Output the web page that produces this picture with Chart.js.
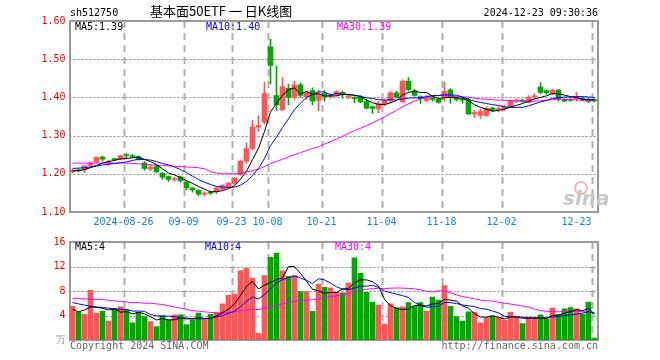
<!DOCTYPE html>
<html>
<head>
<meta charset="utf-8">
<script src="https://cdn.jsdelivr.net/npm/chart.js@4"></script>
<style>
body { margin: 0; background: #fff; width: 660px; height: 360px; position: relative; overflow: hidden;
       font: 10px 'DejaVu Sans Mono', monospace; }
.t { position: absolute; white-space: pre; line-height: 10px; }
#main { position: absolute; left: 0; top: 0; }
#vol { position: absolute; left: 0; top: 232px; }
</style>
</head>
<body>
<canvas id="main" width="660" height="232"></canvas>
<canvas id="vol" width="660" height="128"></canvas>

<div class="t" style="left:70px;top:8px;color:#000">sh512750</div>
<div class="t" style="left:150px;top:3px;font:13px 'Noto Sans CJK SC';line-height:16px;color:#000">基本面50ETF 一 日K线图</div>
<div class="t" style="right:62px;top:8px;color:#000">2024-12-23 09:30:36</div>

<div class="t" style="left:75px;top:22px;color:#000">MA5:1.39</div>
<div class="t" style="left:206px;top:22px;color:#0000ff">MA10:1.40</div>
<div class="t" style="left:337px;top:22px;color:#ff00ff">MA30:1.39</div>

<div class="t" style="left:75px;top:242px;color:#000">MA5:4</div>
<div class="t" style="left:205px;top:242px;color:#0000ff">MA10:4</div>
<div class="t" style="left:335px;top:242px;color:#ff00ff">MA30:4</div>

<div class="t" style="left:70px;top:341px;color:#666">Copyright 2024 SINA.COM</div>
<div class="t" style="right:62px;top:341px;color:#666">http://finance.sina.com.cn</div>

<div style="position:absolute;left:574px;top:181px;width:10px;height:10px;border:2px solid #f2b8b8;border-radius:50%"></div>
<div class="t" style="left:563px;top:188px;font:italic bold 20px 'DejaVu Sans';line-height:20px;color:#c8c8c8">sina</div>

<script>
// ---- 日K数据 (2024-08-13 ... 2024-12-23, 88个交易日) ----
const open = [1.205,1.210,1.211,1.222,1.231,1.244,1.229,1.238,1.239,1.250,
  1.248,1.245,1.228,1.213,1.219,1.201,1.193,1.185,1.192,1.177,
  1.163,1.157,1.147,1.152,1.153,1.160,1.166,1.175,1.198,1.233,
  1.266,1.322,1.335,1.532,1.405,1.368,1.424,1.400,1.433,1.402,
  1.418,1.392,1.410,1.401,1.407,1.413,1.401,1.400,1.400,1.389,
  1.376,1.370,1.382,1.392,1.412,1.388,1.442,1.418,1.402,1.392,
  1.398,1.395,1.399,1.420,1.397,1.396,1.392,1.357,1.353,1.353,
  1.372,1.368,1.371,1.376,1.390,1.392,1.387,1.401,1.427,1.418,
  1.410,1.419,1.394,1.394,1.397,1.398,1.395,1.394];
const high = [1.212,1.213,1.222,1.231,1.244,1.246,1.235,1.240,1.249,1.253,
  1.250,1.247,1.232,1.222,1.224,1.203,1.195,1.191,1.194,1.180,
  1.164,1.158,1.153,1.153,1.164,1.171,1.177,1.190,1.236,1.281,
  1.340,1.352,1.440,1.552,1.482,1.452,1.435,1.443,1.438,1.415,
  1.425,1.418,1.418,1.410,1.418,1.416,1.405,1.402,1.405,1.395,
  1.378,1.390,1.395,1.415,1.416,1.446,1.452,1.421,1.404,1.405,
  1.401,1.398,1.440,1.423,1.401,1.398,1.398,1.366,1.370,1.375,
  1.374,1.376,1.380,1.393,1.396,1.395,1.405,1.410,1.439,1.420,
  1.421,1.421,1.397,1.398,1.413,1.400,1.398,1.396];
const low = [1.202,1.205,1.203,1.218,1.229,1.233,1.222,1.235,1.237,1.240,
  1.243,1.236,1.209,1.208,1.202,1.186,1.180,1.181,1.178,1.158,
  1.152,1.143,1.142,1.146,1.148,1.158,1.164,1.173,1.196,1.228,
  1.262,1.310,1.330,1.435,1.366,1.365,1.380,1.395,1.400,1.395,
  1.380,1.366,1.390,1.398,1.403,1.398,1.397,1.386,1.386,1.370,
  1.358,1.360,1.378,1.385,1.398,1.386,1.416,1.403,1.384,1.388,
  1.390,1.385,1.390,1.385,1.390,1.385,1.355,1.347,1.345,1.350,
  1.362,1.362,1.365,1.374,1.386,1.387,1.385,1.397,1.409,1.408,
  1.407,1.390,1.388,1.390,1.390,1.390,1.386,1.388];
const close = [1.209,1.208,1.221,1.228,1.243,1.238,1.231,1.237,1.247,1.248,
  1.245,1.238,1.214,1.217,1.205,1.191,1.185,1.187,1.182,1.163,
  1.158,1.147,1.149,1.149,1.163,1.170,1.176,1.189,1.233,1.266,
  1.322,1.326,1.410,1.484,1.380,1.428,1.400,1.433,1.405,1.413,
  1.390,1.408,1.402,1.406,1.415,1.407,1.403,1.397,1.388,1.372,
  1.371,1.383,1.392,1.412,1.400,1.442,1.420,1.405,1.397,1.400,
  1.395,1.387,1.416,1.400,1.395,1.393,1.357,1.360,1.363,1.372,
  1.367,1.370,1.374,1.392,1.393,1.390,1.400,1.404,1.413,1.412,
  1.419,1.397,1.390,1.392,1.401,1.395,1.390,1.391];

// 均线 (价格)
const ma5 = [1.208,1.208,1.211,1.216,1.222,1.228,1.232,1.235,1.239,1.240,
  1.242,1.243,1.238,1.232,1.224,1.213,1.202,1.197,1.190,1.182,
  1.175,1.167,1.160,1.153,1.153,1.156,1.161,1.169,1.186,1.207,
  1.237,1.267,1.311,1.362,1.384,1.406,1.420,1.425,1.409,1.416,
  1.408,1.410,1.404,1.404,1.404,1.408,1.407,1.406,1.402,1.393,
  1.386,1.382,1.381,1.386,1.392,1.406,1.413,1.416,1.413,1.413,
  1.403,1.397,1.399,1.400,1.399,1.398,1.392,1.381,1.374,1.369,
  1.364,1.366,1.369,1.375,1.379,1.384,1.390,1.396,1.400,1.404,
  1.410,1.409,1.406,1.402,1.400,1.395,1.394,1.394];
const ma10 = [1.214,1.215,1.216,1.218,1.220,1.223,1.225,1.227,1.229,1.231,
  1.235,1.238,1.237,1.236,1.232,1.227,1.223,1.218,1.211,1.203,
  1.194,1.185,1.178,1.172,1.167,1.165,1.164,1.165,1.170,1.180,
  1.196,1.214,1.240,1.274,1.296,1.321,1.344,1.368,1.385,1.400,
  1.407,1.415,1.414,1.407,1.410,1.408,1.408,1.405,1.403,1.399,
  1.397,1.394,1.393,1.394,1.393,1.396,1.398,1.399,1.399,1.402,
  1.405,1.405,1.407,1.406,1.406,1.401,1.395,1.390,1.387,1.384,
  1.381,1.379,1.375,1.374,1.374,1.374,1.378,1.383,1.388,1.392,
  1.397,1.399,1.401,1.401,1.402,1.402,1.401,1.400];
const ma30 = [1.228,1.228,1.228,1.228,1.228,1.228,1.228,1.228,1.228,1.228,
  1.227,1.226,1.225,1.224,1.222,1.221,1.221,1.220,1.219,1.218,
  1.217,1.216,1.213,1.206,1.202,1.200,1.200,1.200,1.201,1.205,
  1.208,1.212,1.219,1.227,1.232,1.238,1.244,1.250,1.255,1.261,
  1.266,1.271,1.278,1.284,1.291,1.298,1.306,1.313,1.319,1.326,
  1.333,1.341,1.349,1.358,1.366,1.375,1.383,1.390,1.396,1.400,
  1.403,1.405,1.405,1.402,1.403,1.402,1.400,1.398,1.396,1.395,
  1.394,1.393,1.392,1.392,1.391,1.390,1.390,1.390,1.391,1.393,
  1.394,1.395,1.395,1.394,1.394,1.392,1.391,1.391];

// 成交量 (万)
const vol = [5.5,4.5,4.2,8.1,4.4,4.7,3.1,5.1,5.4,4.9,
  2.8,4.5,3.8,3.0,2.2,4.0,3.3,4.1,4.1,2.5,
  3.3,4.4,3.3,4.2,4.5,5.9,7.3,7.5,11.3,11.7,
  10.1,1.1,10.5,13.5,14.2,11.3,10.4,10.5,7.9,7.9,
  4.7,9.1,8.6,8.5,7.8,7.7,9.3,13.4,10.9,7.8,
  6.2,5.7,2.6,5.9,5.3,5.4,6.1,5.5,6.1,4.7,
  7.0,6.5,8.9,5.5,3.8,3.1,4.6,4.5,2.8,3.6,
  4.0,3.6,3.2,4.5,3.7,2.7,3.7,3.6,4.1,3.4,
  5.2,4.1,5.1,5.3,5.1,4.2,6.2,0.3];
const vma5 = [5.0,4.6,4.9,5.4,5.34,5.18,4.90,5.08,4.54,4.64,
  4.26,4.54,4.28,3.80,3.26,3.50,3.26,3.32,3.54,3.60,
  3.46,3.68,3.52,3.54,3.94,4.46,5.04,5.88,7.30,8.74,
  9.58,8.34,8.94,9.38,9.88,10.12,11.98,11.98,10.86,9.60,
  8.28,8.02,7.64,7.76,7.74,8.34,8.38,9.34,9.82,9.82,
  9.52,8.80,6.64,5.64,5.14,4.98,5.06,5.64,5.68,5.56,
  5.88,5.96,6.64,6.52,6.34,5.56,5.18,4.30,3.76,3.72,
  3.90,3.70,3.44,3.78,3.80,3.54,3.56,3.64,3.56,3.50,
  4.00,4.08,4.38,4.62,4.96,4.76,5.18,4.22];
const vma10 = [6.1,5.9,5.7,5.5,5.4,5.3,5.2,5.1,5.0,4.99,
  4.72,4.72,4.68,4.17,3.95,3.88,3.90,3.80,3.67,3.43,
  3.48,3.47,3.42,3.54,3.77,3.96,4.36,4.70,5.42,6.34,
  7.02,6.69,7.41,8.34,9.31,9.85,10.16,10.46,10.12,9.74,
  9.20,10.00,9.81,9.31,8.67,8.31,8.20,8.49,8.79,8.78,
  8.93,8.59,7.99,7.73,7.48,7.25,6.93,6.14,5.66,5.35,
  5.43,5.51,6.14,6.10,5.95,5.72,5.57,5.47,5.14,5.03,
  4.73,4.44,3.87,3.77,3.76,3.72,3.63,3.54,3.67,3.65,
  3.77,3.82,4.01,4.09,4.23,4.38,4.63,4.30];
const vma30 = [6.8,6.8,6.7,6.7,6.6,6.6,6.5,6.4,6.3,6.2,
  6.1,6.1,6.0,6.0,5.9,5.8,5.6,5.4,5.2,5.0,
  4.8,4.7,4.6,4.5,4.4,4.4,4.5,4.6,4.8,4.92,
  5.07,4.96,5.17,5.35,5.68,5.90,6.14,6.32,6.40,6.50,
  6.57,6.72,6.88,7.06,7.25,7.37,7.57,7.88,8.11,8.29,
  8.38,8.43,8.40,8.46,8.49,8.47,8.43,8.36,8.19,7.96,
  7.85,8.03,7.98,7.71,7.37,7.09,6.90,6.70,6.53,6.39,
  6.36,6.18,6.00,5.87,5.73,5.56,5.38,5.05,4.82,4.68,
  4.64,4.59,4.67,4.65,4.65,4.61,4.61,4.44];

// 横轴日期 (交易日序号 -> 标签)
const dateIdx = [9, 19, 27, 33, 42, 52, 62, 72, 87];
const dateLabels = ['2024-08-26', '09-09', '09-23', '10-08', '10-21', '11-04', '11-18', '12-02', '12-23'];

// ---- 样式 ----
const RED = '#ff5555', GREEN = '#00a800';
Chart.defaults.font = { family: "'DejaVu Sans Mono', monospace", size: 10 };

const up = close.map((c, i) => c >= open[i]);
const colors = up.map(u => u ? RED : GREEN);
const pts = arr => arr.map((v, i) => ({ x: i + 0.5, y: v }));

// 网格(横向点线、纵向虚线)和边框
const panel = {
    id: 'panel',
    beforeDatasetsDraw(chart) {
        const { ctx, chartArea: a, scales } = chart;
        ctx.save();
        // 横向点线 (去掉首尾两条, 与边框重合)
        ctx.strokeStyle = '#888888';
        ctx.lineWidth = 1;
        ctx.setLineDash([2, 2]);
        scales.y.ticks.slice(1, -1).forEach(t => {
            const y = Math.round(scales.y.getPixelForValue(t.value)) + 0.5;
            ctx.beginPath(); ctx.moveTo(a.left, y); ctx.lineTo(a.right, y); ctx.stroke();
        });
        // 纵向虚线
        ctx.strokeStyle = '#b0b0b0';
        ctx.lineWidth = 2;
        ctx.setLineDash([7, 5]);
        dateIdx.forEach(v => {
            const x = Math.round(scales.x.getPixelForValue(v)) + 0.5;
            ctx.beginPath(); ctx.moveTo(x, a.top); ctx.lineTo(x, a.bottom); ctx.stroke();
        });
        // 边框
        ctx.setLineDash([]);
        ctx.strokeStyle = '#999';
        ctx.lineWidth = 2;
        ctx.strokeRect(a.left + 0.5, a.top, a.right - a.left, a.bottom - a.top);
        ctx.restore();
    }
};

const maLine = (data, color) => ({
    type: 'line', data: pts(data), borderColor: color, borderWidth: 1,
    pointRadius: 0, tension: 0, order: 0
});

const xAxis = (showLabels) => ({
    type: 'linear', min: 0, max: 88, offset: false,
    afterBuildTicks: s => { s.ticks = dateIdx.map(v => ({ value: v })); },
    afterFit: s => { s.height = showLabels ? 20 : 0; },
    ticks: {
        display: showLabels, autoSkip: false, maxRotation: 0, padding: 4, color: '#1a80d0',
        // 最后一个标签靠左对齐
        callback: (v) => {
            const k = dateIdx.indexOf(v);
            return k === dateIdx.length - 1 ? dateLabels[k] + '     ' : dateLabels[k];
        }
    },
    grid: { display: false, drawTicks: false, offset: false },
    border: { display: false }
});

/* ================= K线图 ================= */
new Chart(document.getElementById('main'), {
    type: 'bar',
    data: {
        datasets: [
            maLine(ma5, '#000000'),
            maLine(ma10, '#0000ff'),
            maLine(ma30, '#ff00ff'),
            {   // 实体
                data: open.map((o, i) => ({ x: i + 0.5, y: [o, close[i]] })),
                backgroundColor: colors, barThickness: 5, minBarLength: 1,
                grouped: false, order: 1
            },
            {   // 影线
                data: low.map((l, i) => ({ x: i + 0.5, y: [l, high[i]] })),
                backgroundColor: colors, barThickness: 1,
                grouped: false, order: 2
            }
        ]
    },
    options: {
        responsive: false, animation: false, events: [],
        layout: { padding: { top: 21, right: 62.5, left: 0, bottom: 0 } },
        plugins: { legend: { display: false }, tooltip: { enabled: false } },
        scales: {
            x: xAxis(true),
            y: {
                min: 1.1, max: 1.6,
                afterFit: s => { s.width = 69.5; },
                ticks: { stepSize: 0.1, color: '#ff0000', padding: 4, callback: v => v.toFixed(2) },
                grid: { display: false, drawTicks: false },
                border: { display: false }
            }
        }
    },
    plugins: [panel]
});

/* ================= 成交量 ================= */
new Chart(document.getElementById('vol'), {
    type: 'bar',
    data: {
        datasets: [
            maLine(vma5, '#000000'),
            maLine(vma10, '#0000ff'),
            maLine(vma30, '#ff00ff'),
            {
                data: pts(vol),
                backgroundColor: colors, barThickness: 5,
                grouped: false, order: 1
            }
        ]
    },
    options: {
        responsive: false, animation: false, events: [],
        layout: { padding: { top: 8, right: 62.5, left: 0, bottom: 20 } },
        plugins: { legend: { display: false }, tooltip: { enabled: false } },
        scales: {
            x: xAxis(false),
            y: {
                min: 0, max: 16,
                afterFit: s => { s.width = 69.5; },
                ticks: {
                    stepSize: 4, padding: 4,
                    color: c => c.tick && c.tick.value === 0 ? '#999' : '#ff0000',
                    callback: v => v === 0 ? '万' : v
                },
                grid: { display: false, drawTicks: false },
                border: { display: false }
            }
        }
    },
    plugins: [panel]
});
</script>
</body>
</html>
